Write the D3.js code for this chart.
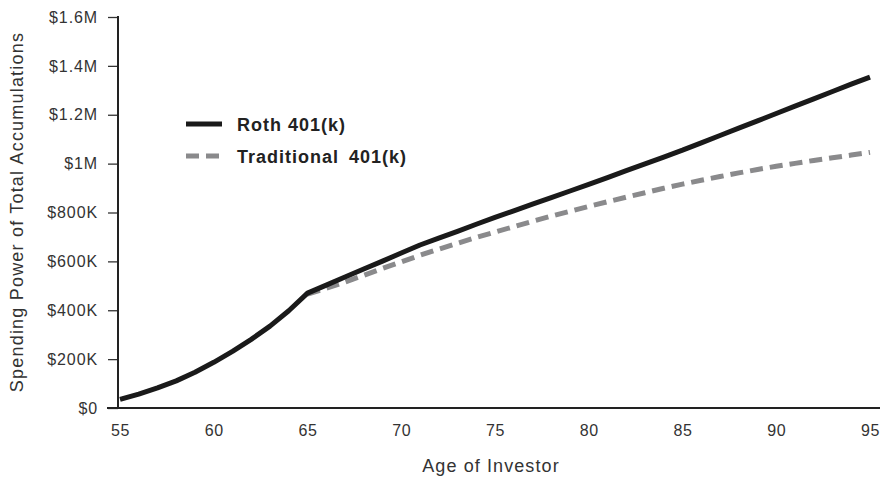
<!DOCTYPE html>
<html>
<head>
    <meta charset="utf-8">
    <style>
        body { margin: 0; background: #fff; }
        svg { display: block; font-family: 'Liberation Sans', Arial, sans-serif; }
    </style>
</head>
<body>
<svg width="880" height="477"></svg>

<script src="https://d3js.org/d3.v7.min.js"></script>
<script>
    // ages on the x axis
    let ages = d3.range(55, 96)

    // Roth 401(k), spending power in dollars, one value per age
    let rothValues = [
        35000, 57000, 82000, 111000, 146000, 187000, 232000, 281000, 335000, 398000,
        470000, 503000, 536000, 569000, 601000, 634000, 667000, 695000, 723000, 752000,
        780000, 807000, 834000, 861000, 888000, 915000, 943000, 971000, 999000, 1027000,
        1055000, 1085000, 1115000, 1145000, 1175000, 1205000, 1235000, 1265000, 1295000, 1325000,
        1354000
    ]

    // Traditional 401(k) starts at age 65
    let tradAges = d3.range(65, 96)
    let tradValues = [
        466000, 490000, 515000, 543000, 571000, 598000, 625000, 650000, 674000, 698000,
        720000, 742000, 764000, 785000, 805000, 825000, 844000, 863000, 881000, 899000,
        916000, 932000, 947000, 962000, 976000, 989000, 1001000, 1013000, 1024000, 1035000,
        1046000
    ]

    let xTicks = [55, 60, 65, 70, 75, 80, 85, 90, 95]
    let yTicks = [0, 200000, 400000, 600000, 800000, 1000000, 1200000, 1400000, 1600000]
    let yTickLabels = ["$0", "$200K", "$400K", "$600K", "$800K", "$1M", "$1.2M", "$1.4M", "$1.6M"]

    let svg = d3.select("svg")

    let x = d3.scaleLinear().domain([55, 95]).range([120, 870])
    let y = d3.scaleLinear().domain([0, 1600000]).range([408, 17])

    // y axis
    let yAxis = svg.append("g")
        .attr("transform", "translate(118,0)")
        .call(d3.axisLeft(y).tickValues(yTicks).tickSize(10).tickPadding(10)
            .tickFormat((d, i) => yTickLabels[i]))
    yAxis.select(".domain").remove()
    yAxis.append("line")
        .attr("x1", 0).attr("x2", 0)
        .attr("y1", 16).attr("y2", 409)
        .attr("stroke", "#222").attr("stroke-width", 2)
    yAxis.selectAll(".tick line").attr("stroke", "#333").attr("stroke-width", 1.3)
    yAxis.selectAll(".tick text")
        .attr("fill", "#333").style("font-size", "16px").style("letter-spacing", "0.9px")

    // x axis
    let xAxis = svg.append("g")
        .attr("transform", "translate(0,408)")
        .call(d3.axisBottom(x).tickValues(xTicks).tickSize(0).tickPadding(17))
    xAxis.select(".domain").remove()
    xAxis.append("line")
        .attr("x1", 107).attr("x2", 880)
        .attr("stroke", "#222").attr("stroke-width", 2.2)
    xAxis.selectAll(".tick text")
        .attr("fill", "#333").style("font-size", "16px").style("letter-spacing", "0.5px")

    // axis titles
    svg.append("text")
        .attr("x", 491).attr("y", 472)
        .attr("text-anchor", "middle")
        .attr("fill", "#333")
        .style("font-size", "18px").style("letter-spacing", "1.1px")
        .text("Age of Investor")

    svg.append("text")
        .attr("transform", "translate(23,212) rotate(-90)")
        .attr("text-anchor", "middle")
        .attr("fill", "#333")
        .style("font-size", "18px").style("letter-spacing", "1.2px")
        .text("Spending Power of Total Accumulations")

    let line = d3.line()
        .x(d => x(d[0]))
        .y(d => y(d[1]))

    // traditional first so roth draws on top
    svg.append("path")
        .datum(d3.zip(tradAges, tradValues))
        .attr("d", line)
        .attr("fill", "none")
        .attr("stroke", "#8a8a8c")
        .attr("stroke-width", 5)
        .attr("stroke-dasharray", "13,7")

    svg.append("path")
        .datum(d3.zip(ages, rothValues))
        .attr("d", line)
        .attr("fill", "none")
        .attr("stroke", "#1a1a1a")
        .attr("stroke-width", 5)
        .attr("stroke-linejoin", "round")

    // legend
    let legend = svg.append("g")
    legend.append("line")
        .attr("x1", 186).attr("x2", 222).attr("y1", 124).attr("y2", 124)
        .attr("stroke", "#1a1a1a").attr("stroke-width", 5)
    legend.append("line")
        .attr("x1", 186).attr("x2", 222).attr("y1", 156).attr("y2", 156)
        .attr("stroke", "#8a8a8c").attr("stroke-width", 5)
        .attr("stroke-dasharray", "13,7")
    legend.append("text")
        .attr("x", 237).attr("y", 131)
        .attr("fill", "#222").style("font-size", "18px").style("font-weight", "bold")
        .style("letter-spacing", "1px")
        .text("Roth 401(k)")
    legend.append("text")
        .attr("x", 237).attr("y", 163)
        .attr("fill", "#222").style("font-size", "18px").style("font-weight", "bold")
        .style("letter-spacing", "1px").style("word-spacing", "4px")
        .text("Traditional 401(k)")
</script>
</body>
</html>
